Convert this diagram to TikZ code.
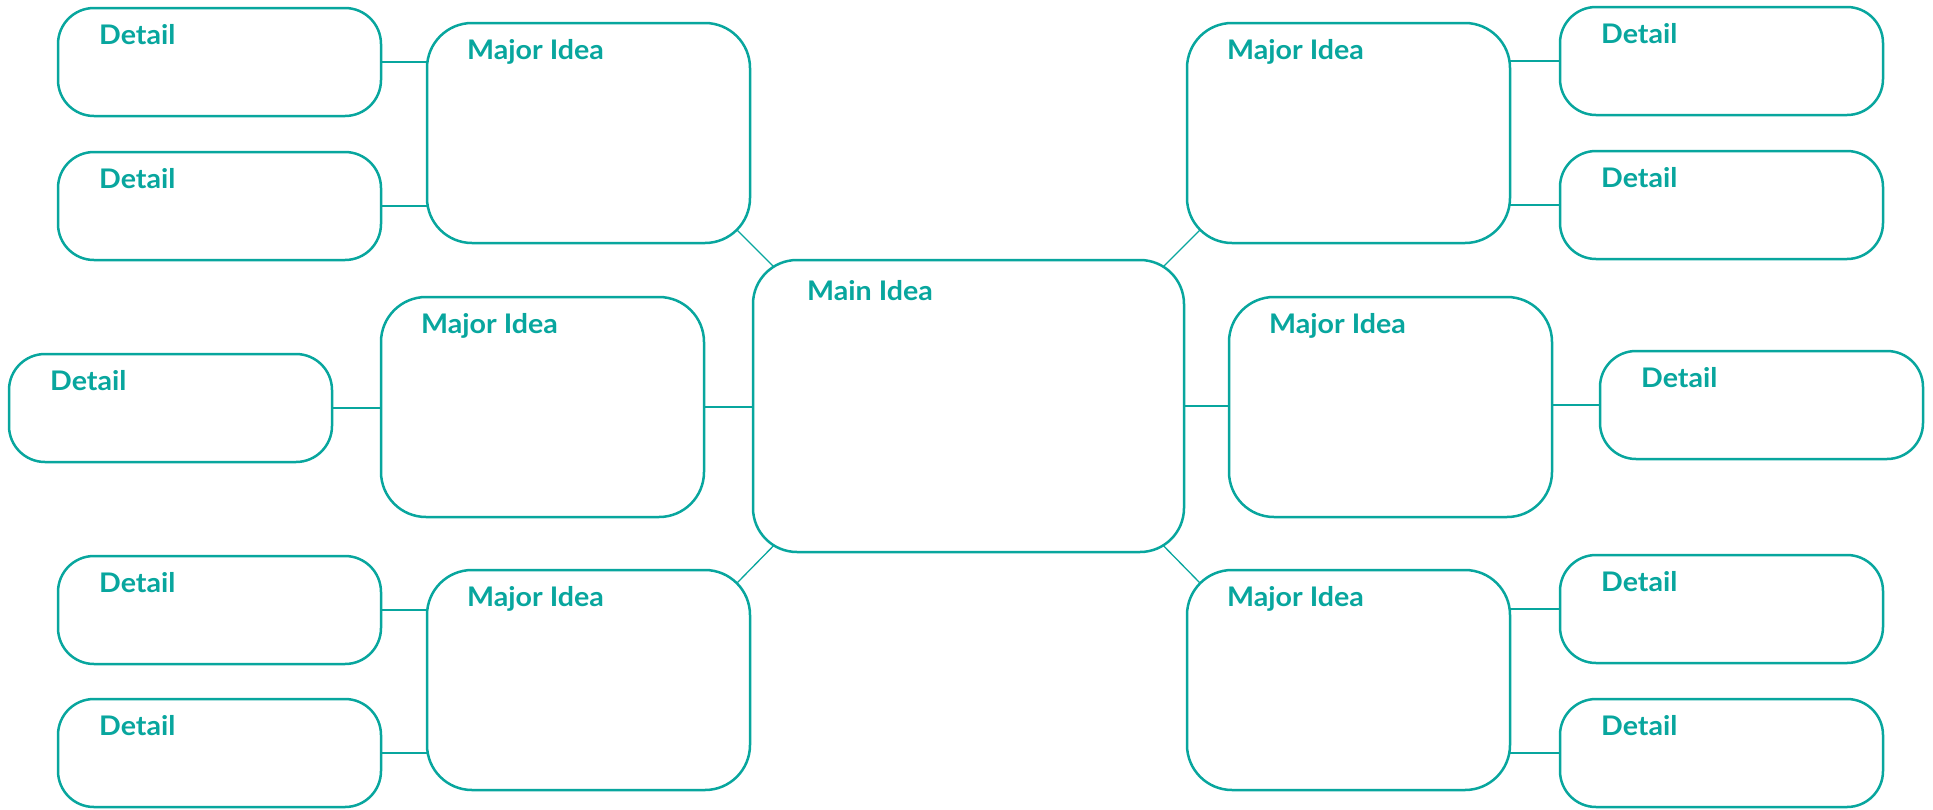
\documentclass[tikz,border=0pt]{standalone}
\usepackage{fontspec}
\setmainfont{Lato}
\newfontfamily\capfont{Lato}[FakeStretch=1.06]
\usetikzlibrary{calc}

\definecolor{mapteal}{RGB}{8,166,158}

\pgfdeclarelayer{links}
\pgfsetlayers{links,main}

\tikzset{
  box/.style={draw=mapteal, line width=2.5pt, fill=white, anchor=north west,
              inner sep=0pt, outer sep=0pt},
  detailbox/.style={box, minimum width=323pt, minimum height=108pt, rounded corners=36pt},
  majorbox/.style={box, minimum width=323pt, minimum height=220pt, rounded corners=45pt},
  mainbox/.style={box, minimum width=431pt, minimum height=292pt, rounded corners=44pt},
  caption/.style={text=mapteal, font=\capfont\bfseries\fontsize{27}{27}\selectfont,
                  anchor=base west, inner sep=0pt},
  link/.style={draw=mapteal, line width=1.3pt},
}

\begin{document}
\begin{tikzpicture}[x=1pt, y=-1pt]
  \useasboundingbox (0,0) rectangle (1933,809);

  % central idea
  \node[mainbox] (main) at (753,260) {};
  \node[caption] (mainT) at ($(main.north west)+(54,40)$) {Main Idea};

  % major ideas
  \node[majorbox] (mTL) at (427,23)  {};
  \node[majorbox] (mML) at (381,297) {};
  \node[majorbox] (mBL) at (427,570) {};
  \node[majorbox] (mTR) at (1187,23)  {};
  \node[majorbox] (mMR) at (1229,297) {};
  \node[majorbox] (mBR) at (1187,570) {};
  \foreach \m in {mTL,mML,mBL,mTR,mMR,mBR}
    \node[caption] (\m T) at ($(\m.north west)+(40,36)$) {Major Idea};

  % details
  \node[detailbox] (dTL1) at (58,8)    {};
  \node[detailbox] (dTL2) at (58,152)  {};
  \node[detailbox] (dML)  at (9,354)   {};
  \node[detailbox] (dBL1) at (58,556)  {};
  \node[detailbox] (dBL2) at (58,699)  {};
  \node[detailbox] (dTR1) at (1560,7)   {};
  \node[detailbox] (dTR2) at (1560,151) {};
  \node[detailbox] (dMR)  at (1600,351) {};
  \node[detailbox] (dBR1) at (1560,555) {};
  \node[detailbox] (dBR2) at (1560,699) {};
  \foreach \d in {dTL1,dTL2,dML,dBL1,dBL2,dTR1,dTR2,dMR,dBR1,dBR2}
    \node[caption] (\d T) at ($(\d.north west)+(41,36)$) {Detail};

  % connectors, kept behind the boxes
  \begin{pgfonlayer}{links}
    % centre to major ideas
    \draw[link] ($(mTL.south east)+(-13,-13)$) -- ($(main.north west)+(34,20)$);
    \draw[link] ($(mBL.north east)+(-13,13)$)  -- ($(main.south west)+(34,-20)$);
    \draw[link] ($(mTR.south west)+(13,-13)$)  -- ($(main.north east)+(-34,20)$);
    \draw[link] ($(mBR.north west)+(13,13)$)   -- ($(main.south east)+(-34,-20)$);
    \draw[link] (mML.east) -- (mML.east -| main.west);
    \draw[link] (main.east) -- (main.east -| mMR.west);
    % major ideas to details
    \draw[link] (dTL1.east) -- (dTL1.east -| mTL.west);
    \draw[link] (dTL2.east) -- (dTL2.east -| mTL.west);
    \draw[link] (dML.east)  -- (dML.east -| mML.west);
    \draw[link] (dBL1.east) -- (dBL1.east -| mBL.west);
    \draw[link] (dBL2.east) -- (dBL2.east -| mBL.west);
    \draw[link] (dTR1.west) -- (dTR1.west -| mTR.east);
    \draw[link] (dTR2.west) -- (dTR2.west -| mTR.east);
    \draw[link] (dMR.west)  -- (dMR.west -| mMR.east);
    \draw[link] (dBR1.west) -- (dBR1.west -| mBR.east);
    \draw[link] (dBR2.west) -- (dBR2.west -| mBR.east);
  \end{pgfonlayer}
\end{tikzpicture}
\end{document}
